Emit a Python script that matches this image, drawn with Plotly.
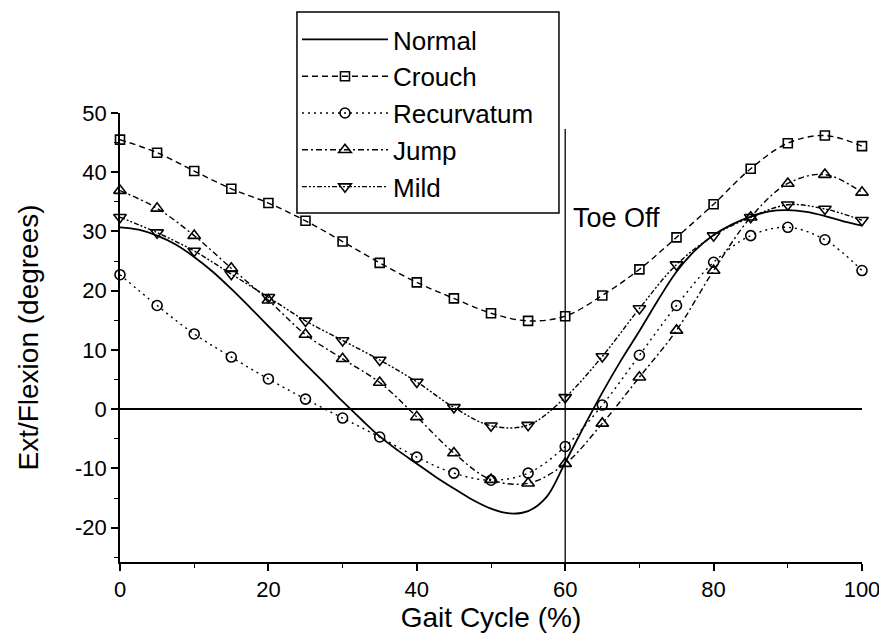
import plotly.graph_objects as go

# Percent of the gait cycle at which each pathological trial is sampled
gait = [0, 5, 10, 15, 20, 25, 30, 35, 40, 45, 50,
        55, 60, 65, 70, 75, 80, 85, 90, 95, 100]

# Normal knee pattern, sampled more finely (no markers drawn)
normal_gait = [0, 2.5, 5, 7.5, 10, 12.5, 15, 17.5, 20, 22.5, 25, 27.5, 30,
               32.5, 35, 37.5, 40, 42.5, 45, 47.5, 50, 52.5, 55, 57.5, 60,
               62.5, 65, 67.5, 70, 72.5, 75, 77.5, 80, 82.5, 85, 87.5, 90,
               92.5, 95, 97.5, 100]
normal = [30.7, 30.3, 29.3, 27.8, 25.7, 23.2, 20.3, 17.2, 14.0, 10.8, 7.6,
          4.5, 1.3, -1.7, -4.6, -7.0, -9.2, -11.4, -13.4, -15.3, -16.8,
          -17.6, -17.2, -14.8, -9.0, -3.0, 2.8, 8.2, 13.2, 18.4, 23.2, 26.8,
          29.4, 31.2, 32.5, 33.4, 33.6, 33.3, 32.6, 31.7, 31.0]

crouch = [45.5, 43.3, 40.2, 37.2, 34.8, 31.8, 28.3, 24.7, 21.4, 18.7, 16.2,
          14.9, 15.7, 19.2, 23.6, 29.0, 34.6, 40.6, 44.9, 46.2, 44.4]
recurvatum = [22.7, 17.5, 12.7, 8.8, 5.1, 1.7, -1.5, -4.7, -8.1, -10.8, -12.0,
              -10.8, -6.3, 0.7, 9.1, 17.5, 24.8, 29.3, 30.7, 28.6, 23.4]
jump = [36.9, 33.9, 29.3, 23.8, 18.4, 12.6, 8.5, 4.5, -1.3, -7.4, -11.9,
        -12.5, -9.2, -2.4, 5.4, 13.3, 23.4, 32.4, 38.1, 39.6, 36.6]
mild = [32.4, 29.8, 26.7, 22.8, 18.9, 14.9, 11.6, 8.3, 4.6, 0.3, -2.8,
        -2.7, 2.0, 8.9, 17.0, 24.4, 29.3, 32.4, 34.5, 33.8, 31.9]

y_ticks = [-20, -10, 0, 10, 20, 30, 40, 50]
y_tick_text = ["-20", "-10", "0", "10", "20", "30", "40", "50"]
x_ticks = [0, 20, 40, 60, 80, 100]

toe_off = 60
y_range = [-25.8, 50]

FONT = "Liberation Sans, Arial, Helvetica, sans-serif"

series = [
    ("Crouch", crouch, "6px,4px", "square-open", 9),
    ("Recurvatum", recurvatum, "2px,4px", "circle-open", 10),
    ("Jump", jump, "6px,3px,2px,3px", "triangle-up-open", 11),
    ("Mild", mild, "5px,2px,2px,2px,2px,2px", "triangle-down-open", 11),
]

fig = go.Figure()
fig.add_trace(go.Scatter(
    x=normal_gait, y=normal, name="Normal", mode="lines",
    line=dict(color="black", width=1.8, shape="spline", smoothing=1.0),
    cliponaxis=False,
))
for name, vals, dash, sym, size in series:
    fig.add_trace(go.Scatter(
        x=gait, y=vals, name=name, mode="lines+markers",
        line=dict(color="black", width=1.4, dash=dash, shape="spline", smoothing=1.0),
        marker=dict(symbol=sym, size=size, color="black", line=dict(width=1.6, color="black")),
        cliponaxis=False,
    ))

# Toe-off marker
fig.add_shape(type="line", x0=toe_off, x1=toe_off, y0=y_range[0], y1=47.3,
              xref="x", yref="y", line=dict(color="black", width=1.3))
fig.add_annotation(x=toe_off + 0.8, y=32.2, text="Toe Off", showarrow=False,
                   xanchor="left", yanchor="middle",
                   font=dict(family=FONT, size=27, color="black"))

# Frame around the key (wider than the entries themselves)
fig.add_shape(type="rect", xref="paper", yref="paper",
              x0=0.2385, x1=0.5916, y0=0.7773, y1=1.2249,
              line=dict(color="black", width=1.5), fillcolor="white", layer="above")

fig.update_layout(
    width=879, height=639,
    margin=dict(l=120, r=17, t=113, b=77),
    plot_bgcolor="white", paper_bgcolor="white",
    font=dict(family=FONT, color="black"),
    showlegend=True,
    legend=dict(
        x=0.2385, y=1.216, xanchor="left", yanchor="top",
        borderwidth=0, bgcolor="rgba(0,0,0,0)",
        font=dict(family=FONT, size=26, color="black"),
        itemwidth=86, traceorder="normal",
    ),
    xaxis=dict(
        range=[0, 100], tickvals=x_ticks, ticks="outside", ticklen=7, tickwidth=1.5,
        tickcolor="black", showline=True, linecolor="black", linewidth=1.8,
        showgrid=False, zeroline=False, tickfont=dict(size=22), automargin=False,
        ticklabeloverflow="allow",
        minor=dict(ticks="outside", ticklen=4, tickwidth=1.2, tickcolor="black",
                   dtick=10, tick0=0, showgrid=False),
        title=dict(text="Gait Cycle (%)", font=dict(size=28), standoff=6),
    ),
    yaxis=dict(
        range=y_range, tickvals=y_ticks, ticktext=y_tick_text, ticks="outside",
        ticklen=7, tickwidth=1.5, tickcolor="black", showline=True,
        linecolor="black", linewidth=1.8, showgrid=False,
        zeroline=True, zerolinecolor="black", zerolinewidth=1.8,
        tickfont=dict(size=22), automargin=False, ticklabeloverflow="allow",
        minor=dict(ticks="outside", ticklen=4, tickwidth=1.2, tickcolor="black",
                   dtick=5, tick0=0, showgrid=False),
        title=dict(text="Ext/Flexion (degrees)", font=dict(size=28), standoff=28),
    ),
)

fig.write_html("out.html")
